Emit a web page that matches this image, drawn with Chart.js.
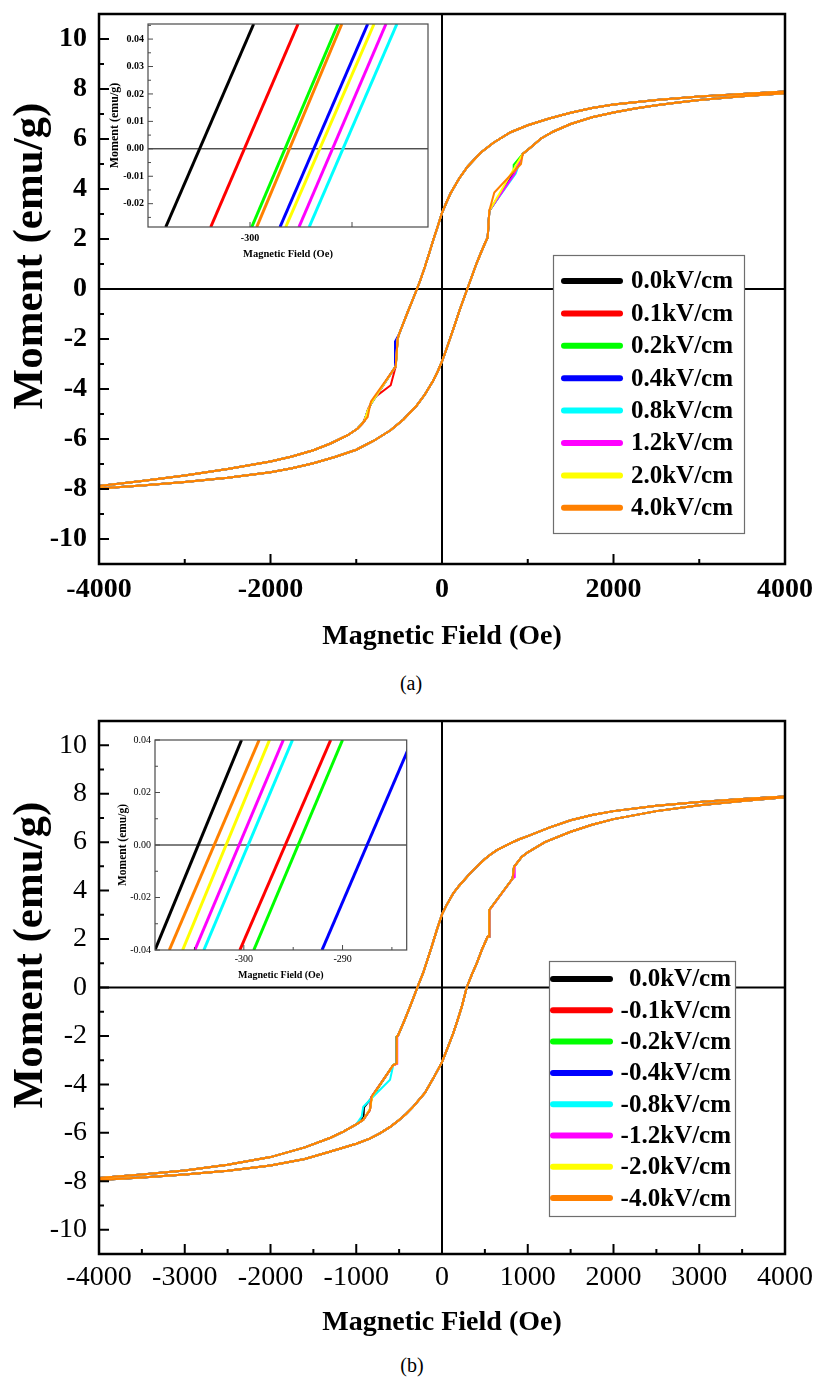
<!DOCTYPE html>
<html><head><meta charset="utf-8">
<script src="https://cdn.jsdelivr.net/npm/chart.js@4.4.1/dist/chart.umd.min.js"></script>
<style>
html,body{margin:0;padding:0;background:#fff;}
#wrap{position:relative;width:814px;height:1383px;overflow:hidden;font-family:'Liberation Serif','Times New Roman',serif;background:#fff;}
canvas{position:absolute;}
.cap{position:absolute;font-size:20px;transform:translate(-50%,-50%);color:#000;}
</style></head><body>
<div id="wrap">
<canvas id="mainA" width="814" height="700" style="left:0;top:0;z-index:1"></canvas>
<canvas id="mainB" width="814" height="683" style="left:0;top:700px;z-index:1"></canvas>
<canvas id="insetA" width="334" height="250" style="left:100px;top:16px;z-index:2"></canvas>
<canvas id="insetB" width="312" height="258" style="left:100px;top:728px;z-index:2"></canvas>
<div class="cap" style="left:411px;top:683px">(a)</div>
<div class="cap" style="left:412px;top:1365px">(b)</div>
</div>
<script>
// ---------- series labels & colours ----------
const seriesColors = ['#000000','#ff0000','#00ff00','#0000ff','#00ffff','#ff00ff','#ffff00','#ff8000'];
const labelsA = ['0.0kV/cm','0.1kV/cm','0.2kV/cm','0.4kV/cm','0.8kV/cm','1.2kV/cm','2.0kV/cm','4.0kV/cm'];
const labelsB = ['0.0kV/cm','-0.1kV/cm','-0.2kV/cm','-0.4kV/cm','-0.8kV/cm','-1.2kV/cm','-2.0kV/cm','-4.0kV/cm'];

// ---------- tick values ----------
const xTicksA = [-4000,-2000,0,2000,4000];
const xMinorA = [-3000,-1000,1000,3000];
const xTicksB = [-4000,-3000,-2000,-1000,0,1000,2000,3000,4000];
const xMinorB = [-3500,-2500,-1500,-500,500,1500,2500,3500];
const yTicksMain = [-10,-8,-6,-4,-2,0,2,4,6,8,10];
const yMinorMain = [-9,-7,-5,-3,-1,1,3,5,7,9];
const insetAYTicks = [-0.02,-0.01,0,0.01,0.02,0.03,0.04];
const insetAYMinor = [-0.025,-0.015,-0.005,0.005,0.015,0.025,0.035,0.045];
const insetAXTicks = [-300];
const insetAXMarks = [-300,-290];
const insetBYTicks = [-0.04,-0.02,0,0.02,0.04];
const insetBYMinor = [-0.03,-0.01,0.01,0.03];
const insetBXTicks = [-300,-290];
const insetBXMinor = [-305,-295,-285];

// ---------- panel (a) loop: descending branch ----------
const descHeadFieldA  = [4000,3500,3000,2500,2000,1750,1500,1250,1000,800,600,450,300,200,100,50,0,-50,-100,-150,-200,-250,-292,-350,-400,-450,-500];
const descHeadMomentA = [7.90,7.80,7.70,7.56,7.38,7.24,7.05,6.82,6.55,6.27,5.85,5.45,4.90,4.42,3.83,3.45,3.05,2.50,1.98,1.42,0.88,0.38,0.00,-0.50,-0.92,-1.36,-1.80];
const descKinkA = [
  [[-517,-1.99],[-540,-3.10],[-830,-4.60],[-868,-4.88],[-908,-5.30],[-985,-5.58]],
  [[-517,-1.99],[-540,-3.10],[-598,-3.85],[-790,-4.35],[-862,-4.80],[-882,-5.05],[-925,-5.38],[-985,-5.58]],
  [[-517,-1.99],[-540,-3.10],[-830,-4.60],[-868,-4.88],[-908,-5.30],[-985,-5.58]],
  [[-548,-2.10],[-548,-3.12],[-830,-4.60],[-868,-4.88],[-908,-5.30],[-985,-5.58]],
  [[-517,-1.99],[-540,-3.10],[-832,-4.62],[-870,-4.90],[-910,-5.32],[-985,-5.58]],
  [[-517,-1.99],[-540,-3.10],[-830,-4.60],[-868,-4.88],[-908,-5.30],[-985,-5.58]],
  [[-517,-1.99],[-538,-3.08],[-826,-4.58],[-866,-4.86],[-906,-5.28],[-985,-5.58]],
  [[-517,-1.99],[-540,-3.10],[-828,-4.50],[-845,-4.75],[-867,-5.12],[-945,-5.45],[-985,-5.58]]
];
const descTailFieldA  = [-1000,-1100,-1300,-1500,-1750,-2000,-2250,-2500,-3000,-3500,-4000];
const descTailMomentA = [-5.62,-5.85,-6.18,-6.45,-6.70,-6.90,-7.05,-7.20,-7.46,-7.68,-7.88];
// ---------- panel (a) loop: ascending branch ----------
const ascHeadFieldA  = [-4000,-3500,-3000,-2500,-2000,-1750,-1500,-1250,-1000,-800,-600,-450,-300,-200,-100,-50,0,50,100,150,200,250,300,350,400,450,500,533];
const ascHeadMomentA = [-7.98,-7.86,-7.72,-7.55,-7.33,-7.17,-6.97,-6.72,-6.43,-6.08,-5.65,-5.22,-4.68,-4.22,-3.65,-3.30,-2.90,-2.42,-1.92,-1.42,-0.90,-0.42,0.05,0.52,1.00,1.42,1.82,2.07];
const ascKinkA = [
  [[552,3.13],[836,4.62],[941,5.40],[1040,5.68]],
  [[552,3.13],[836,4.62],[941,5.40],[1040,5.68]],
  [[552,3.13],[836,4.57],[836,4.97],[941,5.40],[1040,5.68]],
  [[552,3.13],[840,4.63],[941,5.40],[1040,5.68]],
  [[552,3.13],[860,4.62],[941,5.40],[1040,5.68]],
  [[552,3.13],[845,4.60],[941,5.40],[1040,5.68]],
  [[552,3.13],[941,5.40],[1040,5.68]],
  [[552,3.13],[610,3.86],[921,5.00],[941,5.40],[1040,5.68]]
];
const ascTailFieldA  = [1155,1300,1500,1750,2000,2250,2500,2750,3000,3500,4000];
const ascTailMomentA = [6.02,6.30,6.60,6.87,7.06,7.22,7.35,7.46,7.56,7.71,7.83];

// ---------- panel (b) loop: descending branch ----------
const descHeadFieldB  = [4000,3500,3000,2500,2000,1750,1500,1250,1000,900,800,640,570,500,420,330,200,130,50,0,-60,-110,-160,-220,-288,-330,-373,-440,-510];
const descHeadMomentB = [7.88,7.78,7.66,7.50,7.28,7.12,6.90,6.60,6.25,6.12,5.96,5.67,5.50,5.30,5.04,4.72,4.20,3.88,3.38,3.02,2.38,1.80,1.25,0.60,0.00,-0.40,-0.79,-1.38,-1.96];
const descKinkB = [
  [[-528,-2.03],[-528,-3.13],[-568,-3.20],[-820,-4.55],[-910,-4.95],[-915,-5.35],[-1000,-5.65]],
  [[-528,-2.03],[-528,-3.13],[-568,-3.20],[-820,-4.50],[-840,-5.05],[-918,-5.46],[-1000,-5.65]],
  [[-528,-2.03],[-528,-3.13],[-568,-3.20],[-820,-4.50],[-840,-5.05],[-918,-5.46],[-1000,-5.65]],
  [[-530,-2.05],[-530,-3.13],[-570,-3.22],[-822,-4.52],[-842,-5.05],[-918,-5.46],[-1000,-5.65]],
  [[-528,-2.03],[-528,-3.13],[-568,-3.20],[-606,-3.81],[-801,-4.50],[-918,-4.92],[-937,-5.33],[-1000,-5.65]],
  [[-522,-2.00],[-522,-3.15],[-566,-3.20],[-820,-4.50],[-840,-5.05],[-918,-5.46],[-1000,-5.65]],
  [[-528,-2.03],[-528,-3.13],[-568,-3.20],[-815,-4.50],[-838,-5.00],[-918,-5.46],[-1000,-5.65]],
  [[-528,-2.03],[-528,-3.13],[-568,-3.20],[-820,-4.50],[-840,-5.05],[-918,-5.46],[-1000,-5.65]]
];
const descTailFieldB  = [-1150,-1300,-1600,-2000,-2500,-3000,-3500,-4000];
const descTailMomentB = [-5.95,-6.20,-6.60,-7.00,-7.32,-7.55,-7.72,-7.86];
// ---------- panel (b) loop: ascending branch ----------
const ascHeadFieldB  = [-4000,-3500,-3000,-2500,-2000,-1600,-1300,-1000,-850,-720,-600,-500,-420,-335,-200,-100,0,70,130,180,230,288,350,405,470,533];
const ascHeadMomentB = [-7.95,-7.84,-7.72,-7.56,-7.35,-7.08,-6.77,-6.45,-6.25,-6.01,-5.74,-5.47,-5.22,-4.92,-4.35,-3.74,-3.08,-2.45,-1.90,-1.37,-0.80,0.00,0.55,1.00,1.60,2.10];
const ascKinkB = [
  [[552,2.10],[552,3.20],[824,4.50],[840,4.98],[929,5.39],[1000,5.58]],
  [[552,2.10],[552,3.20],[824,4.50],[840,4.98],[929,5.39],[1000,5.58]],
  [[552,2.10],[552,3.20],[824,4.50],[840,4.98],[929,5.39],[1000,5.58]],
  [[552,2.10],[552,3.20],[824,4.50],[840,4.98],[929,5.39],[1000,5.58]],
  [[553,2.10],[553,3.20],[826,4.50],[841,4.98],[929,5.39],[1000,5.58]],
  [[555,2.10],[555,3.20],[826,4.50],[848,4.55],[848,5.02],[929,5.39],[1000,5.58]],
  [[552,2.10],[552,3.20],[824,4.50],[840,4.98],[929,5.39],[1000,5.58]],
  [[552,2.10],[552,3.20],[824,4.50],[840,4.98],[929,5.39],[1000,5.58]]
];
const ascTailFieldB  = [1200,1493,1750,2000,2500,3000,3500,4000];
const ascTailMomentB = [6.00,6.42,6.72,6.95,7.28,7.52,7.70,7.85];

// ---------- insets: straight M(H) segments near coercive field ----------
const insetAMoment     = [-0.0285, 0.0455];
const insetAFieldStart = [-308.26,-303.85,-299.83,-297.06,-294.20,-295.20,-296.50,-299.34];
const insetAFieldEnd   = [-299.64,-295.29,-291.37,-288.46,-285.60,-286.67,-287.84,-291.00];
const insetBMoment     = [-0.04, 0.04];
const insetBFieldStart = [-309.00,-300.40,-298.99,-292.08,-304.05,-304.96,-306.20,-307.55];
const insetBFieldEnd   = [-300.23,-291.20,-290.00,-282.95,-295.07,-296.00,-297.40,-298.45];

// ---------- helpers ----------
function zipPts(f, m){ return f.map((v,i)=>({x:v, y:m[i]})); }
function pairPts(p){ return p.map(q=>({x:q[0], y:q[1]})); }
function loopSeries(i, dhF, dhM, dk, dtF, dtM, ahF, ahM, ak, atF, atM){
  return [].concat(zipPts(dhF,dhM), pairPts(dk[i]), zipPts(dtF,dtM),
                   zipPts(ahF,ahM), pairPts(ak[i]), zipPts(atF,atM));
}
function noPad(s){ s.paddingTop = 0; s.paddingBottom = 0; s.paddingLeft = 0; s.paddingRight = 0; }

Chart.defaults.font.family = "'Liberation Serif','Times New Roman',serif";
Chart.defaults.color = '#000';

const axesDecor = {
  id:'axesDecor',
  beforeDatasetsDraw(chart, args, o){
    const {ctx, chartArea:a, scales:{x,y}} = chart;
    ctx.save();
    ctx.strokeStyle = '#000'; ctx.lineWidth = o.zeroWidth;
    ctx.beginPath();
    const py = y.getPixelForValue(0);
    ctx.moveTo(a.left, py); ctx.lineTo(a.right, py);
    if (o.zeroV){ const px = x.getPixelForValue(0); ctx.moveTo(px, a.top); ctx.lineTo(px, a.bottom); }
    ctx.stroke();
    ctx.restore();
  },
  afterDatasetsDraw(chart, args, o){
    const {ctx, chartArea:a, scales:{x,y}} = chart;
    ctx.save();
    ctx.strokeStyle = o.frameColor; ctx.lineWidth = o.tickWidth; ctx.lineCap = 'butt';
    ctx.beginPath();
    o.xMajor.forEach(v=>{const px=x.getPixelForValue(v); ctx.moveTo(px,a.bottom); ctx.lineTo(px,a.bottom-o.majorLen);});
    o.xMinor.forEach(v=>{const px=x.getPixelForValue(v); ctx.moveTo(px,a.bottom); ctx.lineTo(px,a.bottom-o.minorLen);});
    o.yMajor.forEach(v=>{const py=y.getPixelForValue(v); ctx.moveTo(a.left,py); ctx.lineTo(a.left+o.majorLen,py);});
    o.yMinor.forEach(v=>{const py=y.getPixelForValue(v); ctx.moveTo(a.left,py); ctx.lineTo(a.left+o.minorLen,py);});
    ctx.stroke();
    ctx.lineWidth = o.frameWidth;
    ctx.strokeRect(a.left, a.top, a.right-a.left, a.bottom-a.top);
    ctx.restore();
  }
};

const boxLegend = {
  id:'boxLegend',
  afterDraw(chart, args, o){
    const ctx = chart.ctx;
    ctx.save();
    ctx.fillStyle = '#fff';
    ctx.fillRect(o.box[0], o.box[1], o.box[2], o.box[3]);
    ctx.strokeStyle = '#6e6e6e'; ctx.lineWidth = 1.2;
    ctx.strokeRect(o.box[0], o.box[1], o.box[2], o.box[3]);
    chart.data.datasets.forEach((ds,i)=>{
      const yy = o.row0 + i*o.rowStep;
      ctx.strokeStyle = ds.borderColor; ctx.lineWidth = o.lineWidth; ctx.lineCap = 'round';
      ctx.beginPath(); ctx.moveTo(o.line[0], yy); ctx.lineTo(o.line[1], yy); ctx.stroke();
      ctx.fillStyle = '#000'; ctx.font = o.font; ctx.textAlign = 'right'; ctx.textBaseline = 'middle';
      ctx.fillText(ds.label, o.textRight, yy + 1);
    });
    ctx.restore();
  }
};

const yTitle = {
  id:'yTitle',
  afterDraw(chart, args, o){
    const ctx = chart.ctx;
    ctx.save();
    ctx.translate(o.x, o.y); ctx.rotate(-Math.PI/2);
    ctx.font = o.font; ctx.fillStyle = '#000'; ctx.textAlign = 'center'; ctx.textBaseline = 'middle';
    ctx.fillText(o.text, 0, 0);
    ctx.restore();
  }
};

function mainChart(id, labels, loopArgs, cfg){
  const datasets = labels.map((lab,i)=>({
    label: lab,
    data: loopSeries(i, ...loopArgs),
    borderColor: seriesColors[i],
    borderWidth: 2,
    showLine: true, pointRadius: 0, fill: false, tension: 0,
    order: labels.length - 1 - i
  }));
  return new Chart(document.getElementById(id), {
    type:'scatter',
    data:{datasets},
    plugins:[axesDecor, boxLegend, yTitle],
    options:{
      responsive:false, animation:false, devicePixelRatio:1,
      layout:{autoPadding:false, padding:{left:0, top:cfg.top, right:cfg.right, bottom:0}},
      plugins:{
        legend:{display:false}, tooltip:{enabled:false},
        axesDecor:{zeroWidth:2, zeroV:true, frameColor:'#000', tickWidth:2, frameWidth:2.5, majorLen:10, minorLen:5,
                   xMajor:cfg.xTicks, xMinor:cfg.xMinor, yMajor:yTicksMain, yMinor:yMinorMain},
        boxLegend:cfg.legend,
        yTitle:{text:'Moment (emu/g)', x:31, y:cfg.yTitleY, font:"bold 43px 'Liberation Serif'"}
      },
      scales:{
        x:{type:'linear', min:-4000, max:4000,
           afterBuildTicks(s){ s.ticks = cfg.xTicks.map(v=>({value:v})); },
           afterFit(s){ s.height = cfg.xh; noPad(s); },
           grid:{display:false, drawTicks:false}, border:{display:false},
           ticks:{padding:cfg.xpad, autoSkip:false, maxRotation:0, color:'#000',
                  font:{size:28, weight:cfg.tickWeight}, callback:v=>String(v)},
           title:{display:true, text:'Magnetic Field (Oe)', color:'#000', font:{size:28, weight:'bold'}, padding:{top:0, bottom:cfg.xtitlePad}}},
        y:{type:'linear', min:-11, max:11,
           afterBuildTicks(s){ s.ticks = yTicksMain.map(v=>({value:v})); },
           afterFit(s){ s.width = 99; noPad(s); },
           grid:{display:false, drawTicks:false}, border:{display:false},
           ticks:{padding:12, autoSkip:false, color:'#000', font:{size:28, weight:cfg.tickWeight}, callback:v=>String(v)},
           title:{display:false}}
      }
    }
  });
}

function insetChart(id, labels, fStart, fEnd, mom, cfg){
  const datasets = labels.map((lab,i)=>({
    label: lab,
    data: [{x:fStart[i], y:mom[0]}, {x:fEnd[i], y:mom[1]}],
    borderColor: seriesColors[i], borderWidth: 3, borderCapStyle:'butt',
    showLine:true, pointRadius:0, fill:false, tension:0, clip:0
  }));
  return new Chart(document.getElementById(id), {
    type:'scatter',
    data:{datasets},
    plugins:[axesDecor],
    options:{
      responsive:false, animation:false, devicePixelRatio:1,
      layout:{autoPadding:false, padding:{left:0, top:cfg.top, right:cfg.right, bottom:0}},
      plugins:{
        legend:{display:false}, tooltip:{enabled:false},
        axesDecor:{zeroWidth:1, zeroV:false, frameColor:'#4a4a4a', tickWidth:1, frameWidth:1.2, majorLen:5, minorLen:3,
                   xMajor:cfg.xMarks, xMinor:cfg.xMinor, yMajor:cfg.yTicks, yMinor:cfg.yMinor}
      },
      scales:{
        x:{type:'linear', min:cfg.xmin, max:cfg.xmax,
           afterBuildTicks(s){ s.ticks = cfg.xTicks.map(v=>({value:v})); },
           afterFit(s){ s.height = cfg.xh; noPad(s); },
           grid:{display:false, drawTicks:false}, border:{display:false},
           ticks:{padding:cfg.xpad, autoSkip:false, maxRotation:0, color:'#000',
                  font:{size:10, weight:cfg.tickWeight}, callback:v=>String(v)},
           title:{display:true, text:'Magnetic Field (Oe)', color:'#000', font:{size:cfg.xTitleSize, weight:'bold'}, padding:{top:0, bottom:cfg.xtitlePad}}},
        y:{type:'linear', min:cfg.ymin, max:cfg.ymax,
           afterBuildTicks(s){ s.ticks = cfg.yTicks.map(v=>({value:v})); },
           afterFit(s){ s.width = cfg.yw; noPad(s); },
           grid:{display:false, drawTicks:false}, border:{display:false},
           ticks:{padding:4, autoSkip:false, color:'#000', font:{size:10, weight:cfg.tickWeight}, callback:v=>Number(v).toFixed(2)},
           title:{display:true, text:'Moment (emu/g)', color:'#000', font:{size:cfg.yTitleSize, weight:'bold', lineHeight:1.2}, padding:{top:cfg.ytitlePad, bottom:0}}}
      }
    }
  });
}

mainChart('mainA', labelsA,
  [descHeadFieldA, descHeadMomentA, descKinkA, descTailFieldA, descTailMomentA, ascHeadFieldA, ascHeadMomentA, ascKinkA, ascTailFieldA, ascTailMomentA],
  {top:14, right:29, xh:136, xpad:9, xtitlePad:46, tickWeight:'bold', xTicks:xTicksA, xMinor:xMinorA, yTitleY:256,
   legend:{box:[553.5,255.5,191,278], row0:281, rowStep:32.4, line:[564,620], lineWidth:6, textRight:733, font:"bold 25px 'Liberation Serif'"}});

mainChart('mainB', labelsB,
  [descHeadFieldB, descHeadMomentB, descKinkB, descTailFieldB, descTailMomentB, ascHeadFieldB, ascHeadMomentB, ascKinkB, ascTailFieldB, ascTailMomentB],
  {top:21, right:29, xh:129, xpad:7, xtitlePad:43, tickWeight:'normal', xTicks:xTicksB, xMinor:xMinorB, yTitleY:255,
   legend:{box:[549.5,261.5,186,255], row0:279, rowStep:31.3, line:[553,610], lineWidth:6, textRight:731, font:"bold 25px 'Liberation Serif'"}});

insetChart('insetA', labelsA, insetAFieldStart, insetAFieldEnd, insetAMoment,
  {top:8, right:6, xh:39, yw:48, xmin:-310, xmax:-282.55, ymin:-0.0285, ymax:0.0455,
   xTicks:insetAXTicks, xMarks:insetAXMarks, xMinor:[], yTicks:insetAYTicks, yMinor:insetAYMinor,
   xpad:5, xtitlePad:5.7, ytitlePad:8, tickWeight:'bold', xTitleSize:10.5, yTitleSize:12});

insetChart('insetB', labelsB, insetBFieldStart, insetBFieldEnd, insetBMoment,
  {top:12, right:5.3, xh:36, yw:55, xmin:-309, xmax:-283.5, ymin:-0.04, ymax:0.04,
   xTicks:insetBXTicks, xMarks:insetBXTicks, xMinor:insetBXMinor, yTicks:insetBYTicks, yMinor:insetBYMinor,
   xpad:3.3, xtitlePad:5, ytitlePad:16, tickWeight:'normal', xTitleSize:10, yTitleSize:11.5});
</script>
</body></html>
